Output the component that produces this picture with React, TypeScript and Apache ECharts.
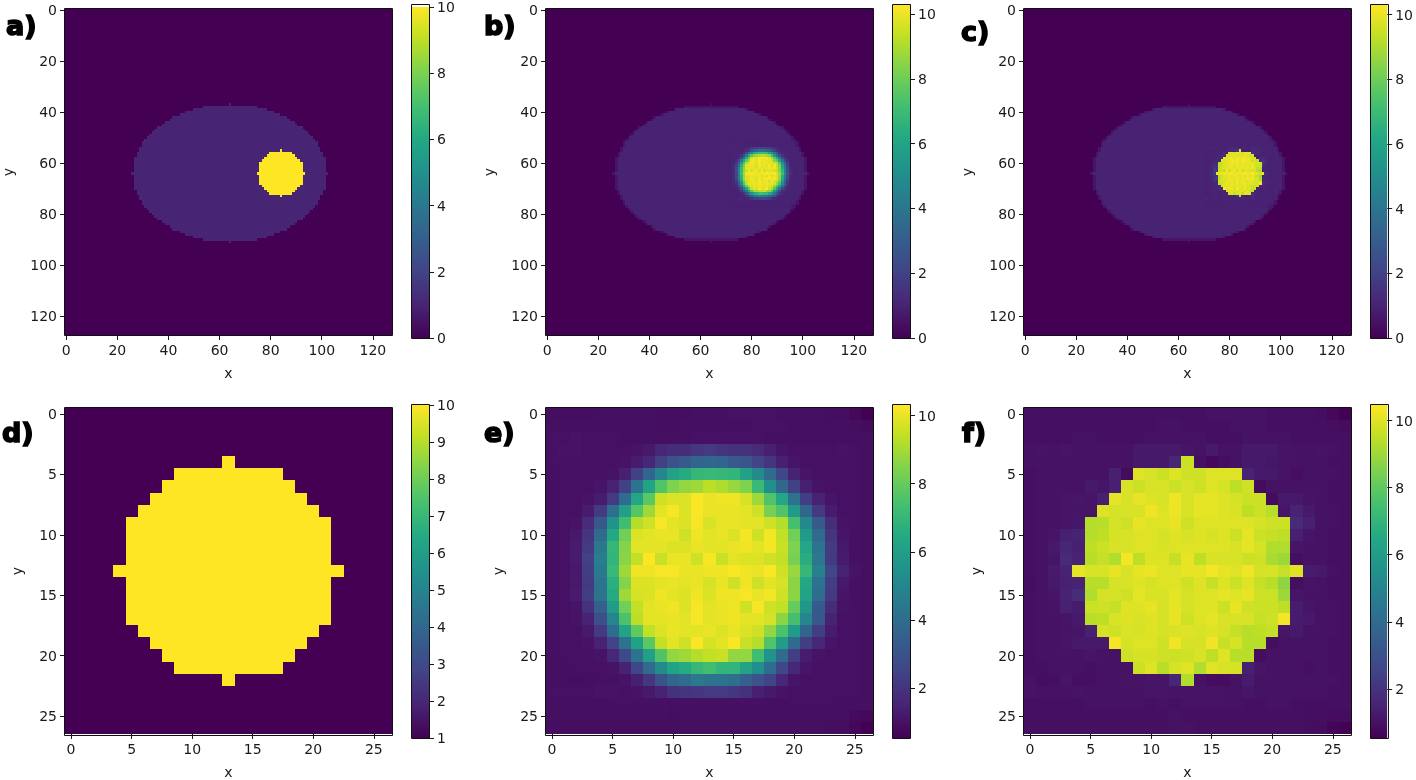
import React, { useEffect, useRef } from "react";
import * as echarts from "echarts";

const viridisStops = ["#440154","#482475","#414487","#355f8d","#2a788e","#21918c","#22a884","#44bf70","#7ad151","#bddf26","#fde725"];

// half width of the ellipse on each row, by distance from row 64
const ellipseHalfWidths = [38,37,37,37,37,37,37,36,36,35,35,34,34,33,32,31,30,29,28,26,25,23,22,19,17,14,10,0];
// half width of the disc on each row, by distance from its centre row
const discHalfWidths = [9,8,8,8,8,7,6,5,4,0];

const cropReconstructed = [
[.9,.9,.9,.9,.95,.95,.95,.95,.95,.9,.9,.9,.95,.95,.95,1,1,1,1,.95,.95,.95,.95,.9,.9,.75,.55],
[.95,.95,.95,.95,.95,.95,.95,.95,.95,.9,.9,.95,.95,.95,.95,.95,.95,1,1,1,.95,.95,.95,.95,.95,.9,.85],
[1,1,1.05,1,1,1,.95,.95,.95,.95,.95,.95,1,1,1,1,1,1,.95,.95,.95,.95,.95,.95,.95,.95,.95],
[1,1.05,1.05,1,1,1,1,1.05,1.2,1.6,1.8,1.8,2.1,2.2,2,1.9,1.9,1.7,1.4,1.1,1,1,1,1,1.05,1,.95],
[1,1,1,1,1,1,1.05,1.3,1.6,2.4,3,3.3,3.7,3.8,3.7,3.3,3.1,2.5,2,1.4,1.1,1,1,1,1,1,.95],
[.95,1,1,1,1,1.05,1.4,2.4,3.7,5,6.1,6.5,7,7.1,7,6.9,6.1,5.2,3.9,2.6,1.5,1.1,1,1,1,1,.95],
[.95,1,1,1,1.1,1.5,2.4,4.3,6.2,7.6,8.4,8.7,8.9,9.3,9.1,8.8,8.4,7.1,5.4,3.8,2.4,1.4,1.05,1,1,1,.95],
[.95,1,1,1.05,1.3,2.2,4,6.3,7.8,9.6,9.8,9.8,10.25,10,10.1,10.1,9.7,8.9,7.6,6.3,4.2,2.3,1.5,1.1,1,1,.95],
[.95,1,1,1.3,2.2,4.1,6,7.7,8.9,9.9,10.2,9.8,10.25,10,10,10,9.9,9.6,8.3,7.6,5.8,3.8,2.2,1.3,1,1,.95],
[.95,1,1.05,1.7,3.2,5.5,7.3,9.2,9.6,10.2,9.9,9.8,10.2,9.75,10,10,9.9,9.9,9.6,9.2,7.4,5.1,3.3,1.8,1.05,1,.95],
[.95,1,1.2,2,3.9,6.4,8.2,9.8,9.9,10,10,9.6,10.1,9.9,10,9.8,10.15,9.6,10.15,9.4,8.2,5.8,3.9,2,1.1,1,.95],
[.95,1,1.3,2.2,4.4,7,8.5,9.9,9.9,9.9,9.8,9.8,10,9.9,9.9,10,10.1,9.9,10.15,9.5,8.4,6.3,4.3,2.2,1.2,1,.95],
[.95,1,1.3,2.4,4.7,6.9,8.6,9.4,10.3,9.5,10,10,9.6,10.2,9.5,9.9,9.8,9.8,9.6,9.4,8.3,6.6,4.4,2.2,1.3,1,.95],
[.95,1,1.2,2.3,4.5,7.1,8.9,10.1,10.1,10.2,10.2,10,10,10.1,10.1,10.25,10.1,10,10.25,9.6,8.8,7,4.8,2.6,1.5,1.05,.95],
[.95,1,1.2,2.2,4.3,6.7,8.5,9.8,9.8,9.9,10,9.9,10,9.7,10,9.6,10.1,9.6,9.9,9.7,8.6,6.4,4.2,2.3,1.2,1,.95],
[.95,1,1.3,2.3,4.3,6.5,8.9,9.7,9.8,10.1,9.9,9.8,10.1,9.8,10.1,10.1,10.2,10,10.15,9.6,8.6,6.2,4,2.2,1.1,1,.95],
[.95,1,1.1,1.9,3.5,5.9,8.2,9.4,9.9,10,10.1,9.8,10.2,9.9,10,10.1,9.6,10.2,9.6,9.4,8,5.7,3.3,1.8,1.05,1,.95],
[.95,1,1.05,1.5,2.9,4.9,7.5,9.3,9.9,9.9,10,9.9,10.2,9.9,10,10.1,9.9,9.9,9.7,8.6,7.4,5,3.2,1.5,1,1,.95],
[.95,1,1,1.2,2.2,4,6.2,7.9,9.4,9.8,10,9.9,9.9,10,9.8,10,9.8,9.6,8.7,7.5,5.9,3.7,2.3,1.3,1,1,.95],
[.95,1,1,1.05,1.5,2.5,4.2,6.1,7.8,9.4,9.9,9.6,10.25,9.7,9.9,10.25,9.5,9.2,7.6,5.9,3.9,2.3,1.6,1.1,1,1,.95],
[.95,1,1,1,1.05,1.6,2.7,4.2,6,7.6,8.7,8.9,9.2,9.4,9.5,8.7,8.7,7.3,5.5,3.9,2.3,1.3,1.05,1,1,1,.95],
[.95,.95,1,1,1,1.05,1.5,2.6,3.9,5.2,6.2,6.5,7,7.3,6.9,6.9,6.2,5.4,4,2.6,1.6,1.1,1,1,1,1,.95],
[.95,.95,.9,.95,1,1,1.05,1.4,2.1,3,3.8,4,4.5,4.3,4.2,4.1,3.5,3,2.5,1.6,1.1,1,1,1,1,1,.95],
[1,1,1,1,1.05,1.05,1,1.05,1.2,1.5,1.9,2,2.1,2.2,2.2,2.1,1.9,1.4,1.2,1.05,1,1,1,1,1,1,.95],
[.95,.95,.95,.95,.95,1,1,1,1,1,.95,1,.95,.95,.95,1,1,1,.95,.95,1,1,1,1,.95,.95,.95],
[.95,.95,.95,.95,.95,.95,.95,.95,.95,.95,.9,.95,.95,.95,.95,.95,.95,.95,.95,.95,.95,.95,.95,.95,.95,.8,.75],
[.9,.9,.9,.9,.9,.9,.9,.9,.9,.9,.9,.95,.95,.95,.95,.95,.95,.95,.95,.95,.95,.95,.95,.9,.9,.7,.55],
];

const cropRefined = [
[.95,.95,.95,.95,.95,.95,.95,.95,.95,.95,.95,.95,.95,.95,.95,1,1,1,1,1,.95,.95,.95,.95,.9,.75,.55],
[.95,.95,.95,.95,.95,.95,.95,.95,.95,.95,.95,1,1,.95,.95,.95,.95,1,1,1,.95,.95,.95,.95,.95,.9,.85],
[.95,.95,.95,.95,1,1,.95,.95,.95,.95,1,1,1,1,1,.95,.95,.95,1,1,1,1,.95,.95,.95,.95,.95],
[1,1.05,1,1.1,1,1,1,1,1,1.2,1.2,1.2,1.2,1.1,1,1.2,1,1,1.2,1.2,1.2,1.05,1,1,1.05,1,.95],
[1,1,1,1,1,1,1,1,1,1.2,1.2,1.2,1.6,9.7,.95,.75,.9,1,1.2,1.2,1.15,1.05,1,1,1,.95,.95],
[.95,1,1,1,1,1,1,1.4,.8,10,9.9,9.7,10,9.75,9.75,10,10,10,1.5,1.2,1.2,1.05,.9,1,1,1,.95],
[.95,1,1,1,1,1.2,1.1,1.4,9.9,9.7,9.9,9.9,9.7,9.9,9.75,10,9.85,9.5,9.75,.8,1,1,1,1,1,.95,.95],
[.95,1,1,1.1,1.15,1.1,1.4,10.1,9.9,10.15,10,9.9,10.25,9.9,10.1,10.1,10,9.85,9.7,9.7,.8,1.2,1.2,1.05,1,.95,.95],
[.95,1,1,1.1,1.1,1.1,10,9.85,9.9,9.9,10.25,10,10.2,9.9,10.1,10.1,10,9.9,9.5,9.7,9.4,1.1,1.5,1.2,1,1,.95],
[.95,1,1,1.1,1.15,9.35,9.4,9.85,9.75,10.15,10,10,10.15,9.75,10,10,10,10,10,9.85,9.75,9.7,1.7,1.4,1,1,.95],
[.95,1,1.1,1.4,1.5,9.35,9.5,9.85,9.9,10,10,9.85,10,9.9,10,9.85,10,9.7,10.1,9.7,9.6,9.5,1.4,1.1,1,.95,.95],
[.95,1,1.2,1.6,1.4,9.5,9.7,9.9,9.9,10,10,9.9,10,10,10,10,10,9.9,10.1,9.85,9.3,9.3,1.1,1,1,.95,.95],
[.95,1,1.1,1.7,1.5,9.4,9.6,9.3,10.3,9.5,10,10,9.6,10.15,9.5,9.9,9.9,9.9,9.7,9.75,9.2,9,.9,1,1,.95,.95],
[.95,1,1.25,1.5,10.1,9.9,9.9,10.15,9.9,10.1,10.2,10,10,10.15,10.1,10.3,10.1,10,10.25,9.85,9.9,9.6,10,1.3,1.2,1,.95],
[.9,1,1.2,1.4,1.5,9.4,9.4,9.85,9.9,10,9.85,10,10,9.75,10,9.6,10,9.7,10,9.6,9.4,8.8,.9,1.05,1,.95,.95],
[.95,1,1.1,1.5,1.8,9.3,9.85,9.85,9.75,10.1,9.9,9.9,10.1,9.85,10,10,10.1,10,10.15,9.75,9.7,9,1.1,1,1,.95,.95],
[.95,1,1.05,1.4,1.3,9.7,9.75,9.6,10,10,10.15,9.85,10.1,9.85,10,10,9.7,10.15,9.75,9.7,9.7,9.5,1.3,1.1,1,1,.95],
[.95,1,1,1.1,1.2,9.4,9.5,9.9,10,9.9,10,9.85,10.15,9.75,10,10.1,9.9,9.9,9.9,9.6,9.75,10.35,1.3,1.2,1,1,.95],
[.95,1,1,1.05,1.1,1.4,9.85,9.75,9.9,9.85,10,9.85,9.9,10,9.9,10,9.85,9.6,9.4,9.5,9.6,1.1,1.2,1,1,1,.95],
[.95,1,1,1.1,1.2,1.2,1.2,10.35,9.85,10,10,9.75,10.25,9.85,9.85,10.25,9.6,9.85,9.4,9.4,.9,1,1,1,1,.95,.95],
[.95,1,1,1,1,1.1,1,1,9.75,9.85,9.85,9.75,9.7,9.75,9.9,9.5,10,9.4,9.4,.85,1,1,1,1,1,.95,.95],
[.95,.95,1,1,1,.95,1,1,1,9.7,10,9.4,9.85,10,9.3,10,9.9,9.85,1.4,1.1,1,1,1,.95,1,.95,.95],
[1,.9,.95,1.1,.95,.95,1,1,1.05,1.05,1.1,1.1,1.6,9.3,1,.85,.85,1,1.3,1,1,1,1,1,1,1,.95],
[1.05,1,1,1,1.05,1,1,1,1,1,1.1,1.1,1.05,1.05,1.05,1.05,1,1,1.15,1,1,1,1,1,1,.95,.95],
[.95,.95,.95,.95,.95,1,1,1,1,1,.95,1,.95,1,1,1,1,1,.95,.95,1,1,.95,.95,.95,.95,.95],
[.95,.95,.95,.95,.95,.95,.95,.95,.95,.95,.95,.95,1,.95,.95,.95,.95,.95,.95,.95,.95,.95,.95,.9,.9,.85,.85],
[.95,.95,.95,.95,.95,.95,.95,.95,.95,.95,.95,.95,1,1,.95,.95,.95,.95,.95,.95,.95,.95,.95,.9,.85,.65,.55],
];

const ticks128 = [0,20,40,60,80,100,120];
const ticks27 = [0,5,10,15,20,25];
const barTicksA = [0,2,4,6,8,10];
const barTicksD = [1,2,3,4,5,6,7,8,9,10];
const barTicksE = [2,4,6,8,10];

type Run = number[]; // row, first column, last column, value

function hexToRgb(h: string) {
  return [parseInt(h.slice(1,3),16),parseInt(h.slice(3,5),16),parseInt(h.slice(5,7),16)];
}
const stopRgb = viridisStops.map(hexToRgb);
function viridis(t: number) {
  const c = Math.max(0, Math.min(1, t)) * (stopRgb.length - 1);
  const i = Math.min(stopRgb.length - 2, Math.floor(c));
  const f = c - i;
  const m = stopRgb[i].map((v, k) => Math.round(v + (stopRgb[i + 1][k] - v) * f));
  return `rgb(${m[0]},${m[1]},${m[2]})`;
}

function backgroundRuns(size: number, value: number): Run[] {
  const out: Run[] = [];
  for (let r = 0; r < size; r++) out.push([r, 0, size - 1, value]);
  return out;
}
function shapeRuns(widths: number[], cx: number, cy: number, value: number, edge?: number): Run[] {
  const out: Run[] = [];
  widths.forEach((w, d) => {
    const rows = d === 0 ? [cy] : [cy - d, cy + d];
    rows.forEach((r) => {
      if (edge !== undefined) {
        const v = w < 2 ? edge * 0.7 : edge;
        out.push([r, cx - w, cx + w, v]);
        if (w >= 2 && d < widths.length - 2) out.push([r, cx - w + 1, cx + w - 1, value]);
      } else out.push([r, cx - w, cx + w, value]);
    });
  });
  return out;
}
function matrixRuns(m: number[][], ox: number, oy: number): Run[] {
  const out: Run[] = [];
  m.forEach((row, r) => row.forEach((v, c) => out.push([r + oy, c + ox, c + ox, v])));
  return out;
}

const panelA = [...backgroundRuns(128, 0), ...shapeRuns(ellipseHalfWidths, 64, 64, 1), ...shapeRuns(discHalfWidths, 84, 64, 10)];
const panelB = [...backgroundRuns(128, 0), ...shapeRuns(ellipseHalfWidths, 64, 64, 1, 0.6), ...matrixRuns(cropReconstructed, 71, 51)];
const panelC = [...backgroundRuns(128, 0), ...shapeRuns(ellipseHalfWidths, 64, 64, 1, 0.6), ...matrixRuns(cropRefined, 71, 51)];
const panelD = [...backgroundRuns(27, 1), ...shapeRuns(discHalfWidths, 13, 13, 10)];
const panelE = matrixRuns(cropReconstructed, 0, 0);
const panelF = matrixRuns(cropRefined, 0, 0);

const COLS = [65, 546, 1024];
const ROWS = [9, 408];
const PLOT_W = 327;
const PLOT_H = [326, 327];
const BAR_X = [412, 893, 1371];
const BAR_TOP = [5, 405];
const BAR_W = 17;
const BAR_H = 333;
const TXT = "#1a1a1a";
const FONT = "DejaVu Sans";

const panels = [
  { letter: "a)", lx: 6, ly: 25, data: panelA, size: 128, ticks: ticks128, vmin: 0, vmax: 10, bar: barTicksA, col: 0, row: 0 },
  { letter: "b)", lx: 484, ly: 25, data: panelB, size: 128, ticks: ticks128, vmin: 0, vmax: 10.28, bar: barTicksA, col: 1, row: 0 },
  { letter: "c)", lx: 961, ly: 31, data: panelC, size: 128, ticks: ticks128, vmin: 0, vmax: 10.3, bar: barTicksA, col: 2, row: 0 },
  { letter: "d)", lx: 2, ly: 432, data: panelD, size: 27, ticks: ticks27, vmin: 1, vmax: 10, bar: barTicksD, col: 0, row: 1 },
  { letter: "e)", lx: 484, ly: 432, data: panelE, size: 27, ticks: ticks27, vmin: 0.54, vmax: 10.31, bar: barTicksE, col: 1, row: 1 },
  { letter: "f)", lx: 962, ly: 432, data: panelF, size: 27, ticks: ticks27, vmin: 0.53, vmax: 10.47, bar: barTicksE, col: 2, row: 1 },
];

function buildOption() {
  const grid: any[] = [], xAxis: any[] = [], yAxis: any[] = [], series: any[] = [], graphic: any[] = [];
  const gradient = viridisStops.map((color, i) => ({ offset: i / (viridisStops.length - 1), color }));
  panels.forEach((p) => {
    const left = COLS[p.col], top = ROWS[p.row], plotH = PLOT_H[p.row];
    const idx = grid.length;
    grid.push({ left, top, width: PLOT_W, height: plotH });
    const common = {
      type: "value", min: -0.5, max: p.size - 0.5, gridIndex: idx, splitLine: { show: false },
      axisLine: { show: false, onZero: false },
      axisTick: { show: true, length: 5, customValues: p.ticks, lineStyle: { color: TXT, width: 1 } },
      axisLabel: { show: true, customValues: p.ticks, margin: 8, fontSize: 14, fontFamily: FONT, color: TXT },
      nameLocation: "middle", nameTextStyle: { fontSize: 14, fontFamily: FONT, color: TXT },
    };
    xAxis.push({ ...common, position: "bottom", name: "x", nameGap: 31 });
    yAxis.push({ ...common, position: "left", inverse: true, name: "y", nameGap: p.size === 128 ? 50 : 41 });
    const { vmin, vmax } = p;
    series.push({
      type: "custom", xAxisIndex: idx, yAxisIndex: idx, silent: true, clip: false,
      encode: { x: [1, 2], y: 0 }, data: p.data,
      renderItem: (_: any, api: any) => {
        const a = api.coord([api.value(1) - 0.5, api.value(0) - 0.5]);
        const b = api.coord([api.value(2) + 0.5, api.value(0) + 0.5]);
        const x0 = Math.round(a[0]), y0 = Math.round(a[1]);
        return {
          type: "rect",
          shape: { x: x0, y: y0, width: Math.round(b[0]) - x0, height: Math.round(b[1]) - y0 },
          style: { fill: viridis((api.value(3) - vmin) / (vmax - vmin)) },
        };
      },
    });
    graphic.push({
      type: "rect", silent: true, z: 100,
      shape: { x: left - 0.5, y: top - 0.5, width: PLOT_W + 1, height: plotH + 1 },
      style: { fill: "transparent", stroke: "#111", lineWidth: 1 },
    });
    // colour bar
    const bi = grid.length;
    grid.push({ left: BAR_X[p.col], top: BAR_TOP[p.row], width: BAR_W, height: BAR_H });
    xAxis.push({ type: "value", gridIndex: bi, min: 0, max: 1, show: false });
    yAxis.push({
      type: "value", gridIndex: bi, min: vmin, max: vmax, position: "right", splitLine: { show: false },
      axisLine: { show: false, onZero: false },
      axisTick: { show: true, length: 5, customValues: p.bar, lineStyle: { color: TXT, width: 1 } },
      axisLabel: { show: true, customValues: p.bar, margin: 8, fontSize: 14, fontFamily: FONT, color: TXT },
    });
    series.push({
      type: "custom", xAxisIndex: bi, yAxisIndex: bi, silent: true,
      encode: { x: 0, y: [1, 2] }, data: [[0, vmin, vmax]],
      renderItem: (_: any, api: any) => {
        const a = api.coord([0, api.value(2)]);
        const b = api.coord([1, api.value(1)]);
        return {
          type: "rect",
          shape: { x: a[0], y: a[1], width: b[0] - a[0], height: b[1] - a[1] },
          style: { fill: { type: "linear", x: 0, y: 1, x2: 0, y2: 0, colorStops: gradient } },
        };
      },
    });
    graphic.push({
      type: "rect", silent: true, z: 100,
      shape: { x: BAR_X[p.col] - 0.5, y: BAR_TOP[p.row] - 0.5, width: BAR_W + 1, height: BAR_H + 1 },
      style: { fill: "transparent", stroke: "#111", lineWidth: 1 },
    });
    graphic.push({
      type: "text", silent: true, z: 101, x: p.lx, y: p.ly,
      style: {
        text: p.letter, fill: "#000", stroke: "#000", lineWidth: 1.6,
        font: `900 27px "${FONT}"`, verticalAlign: "middle",
      },
    });
  });
  return { animation: false, backgroundColor: "#fff", grid, xAxis, yAxis, series, graphic: { elements: graphic } };
}

export default function App() {
  const ref = useRef<HTMLDivElement>(null);
  useEffect(() => {
    document.body.style.margin = "0";
    const chart = echarts.init(ref.current!, undefined, { renderer: "svg" });
    chart.setOption(buildOption());
    return () => chart.dispose();
  }, []);
  return <div ref={ref} style={{ width: 1416, height: 780, filter: "blur(0.4px)" }} />;
}
